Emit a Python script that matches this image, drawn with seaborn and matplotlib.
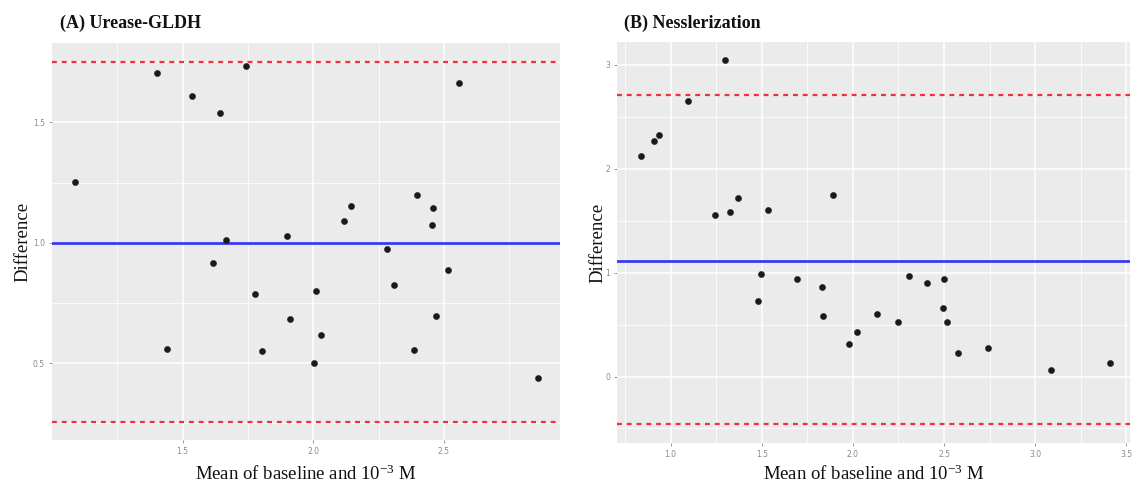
import numpy as np
import pandas as pd
import matplotlib
matplotlib.use("Agg")
import matplotlib.pyplot as plt
import seaborn as sns
from matplotlib.ticker import FixedLocator

# ---- data ----
a_mean = [1.089, 1.403, 1.534, 1.642, 1.667, 1.742, 1.900, 2.117, 2.144, 2.396,
          2.459, 2.456, 2.558, 2.282, 1.618, 1.440, 1.777, 1.802, 1.909, 2.012,
          2.029, 2.001, 2.310, 2.514, 2.469, 2.385, 2.860]
a_diff = [1.254, 1.707, 1.611, 1.540, 1.011, 1.736, 1.026, 1.092, 1.151, 1.199,
          1.143, 1.075, 1.663, 0.975, 0.915, 0.557, 0.785, 0.550, 0.682, 0.801,
          0.617, 0.499, 0.824, 0.885, 0.696, 0.553, 0.436]
a_bias, a_upper, a_lower = 1.0, 1.75, 0.254

b_mean = [0.836, 0.910, 0.938, 1.098, 1.297, 1.244, 1.325, 1.367, 1.537, 1.890,
          1.495, 1.479, 1.695, 1.830, 1.834, 1.978, 2.020, 2.132, 2.246, 2.307,
          2.409, 2.501, 2.495, 2.515, 2.575, 2.741, 3.086, 3.413]
b_diff = [2.126, 2.271, 2.329, 2.650, 3.048, 1.552, 1.584, 1.719, 1.603, 1.745,
          0.990, 0.724, 0.942, 0.862, 0.586, 0.310, 0.426, 0.602, 0.522, 0.968,
          0.904, 0.942, 0.660, 0.522, 0.229, 0.272, 0.066, 0.133]
b_bias, b_upper, b_lower = 1.116, 2.711, -0.459

a_xticks = [1.5, 2.0, 2.5]
a_xlabels = ["1.5", "2.0", "2.5"]
a_yticks = [0.5, 1.0, 1.5]
a_ylabels = ["0.5", "1.0", "1.5"]
b_xticks = [1.0, 1.5, 2.0, 2.5, 3.0, 3.5]
b_xlabels = ["1.0", "1.5", "2.0", "2.5", "3.0", "3.5"]
b_yticks = [0, 1, 2, 3]
b_ylabels = ["0", "1", "2", "3"]

titles = ["(A) Urease-GLDH", "(B) Nesslerization"]
xlabel = "Mean of baseline and 10$^{-3}$ M"
ylabel = "Difference"

sns.set_theme(style="darkgrid")
plt.rcParams["font.family"] = ["DejaVu Sans"]
plt.rcParams["mathtext.fontset"] = "custom"
plt.rcParams["mathtext.rm"] = "Liberation Serif"
plt.rcParams["mathtext.it"] = "Liberation Serif:italic"
plt.rcParams["mathtext.bf"] = "Liberation Serif:bold"

fig = plt.figure(figsize=(11.34, 4.92), dpi=100)
axA = fig.add_axes([52/1134, 1-440/492, 508/1134, 397/492])
axB = fig.add_axes([617/1134, 1-443/492, 513/1134, 401/492])

panels = [
    (axA, a_mean, a_diff, a_bias, a_upper, a_lower, (1.0, 2.944), (0.18, 1.83),
     a_xticks, a_xlabels, a_yticks, a_ylabels,
     [1.25, 1.75, 2.25, 2.75], [0.25, 0.75, 1.25, 1.75], 6.4, -0.057),
    (axB, b_mean, b_diff, b_bias, b_upper, b_lower, (0.706, 3.52), (-0.64, 3.22),
     b_xticks, b_xlabels, b_yticks, b_ylabels,
     [0.75, 1.25, 1.75, 2.25, 2.75, 3.25], [-0.5, 0.5, 1.5, 2.5], 4.2, -0.037),
]

for (ax, xm, yd, bias, up, lo, xl, yl, xt, xtl, yt, ytl, xmin, ymin, xpad, ycoord) in panels:
    ax.set_facecolor("#EBEBEB")
    df = pd.DataFrame({"m": xm, "d": yd})
    ax.set_xlim(*xl)
    ax.set_ylim(*yl)
    ax.xaxis.set_major_locator(FixedLocator(xt))
    ax.yaxis.set_major_locator(FixedLocator(yt))
    ax.set_xticklabels(xtl)
    ax.set_yticklabels(ytl)
    ax.xaxis.set_minor_locator(FixedLocator(xmin))
    ax.yaxis.set_minor_locator(FixedLocator(ymin))
    ax.grid(which="major", color="white", linewidth=1.1)
    ax.grid(which="minor", color="white", linewidth=0.55)
    ax.set_axisbelow(True)
    for s in ax.spines.values():
        s.set_visible(False)
    ax.tick_params(axis="both", which="major", labelsize=5.5, labelcolor="#8a8a8a",
                   color="#8a8a8a", length=2, width=0.6, pad=3,
                   bottom=True, left=True)
    ax.tick_params(axis="both", which="minor", length=0)
    ax.axhline(bias, color="#3a3af0", linewidth=2.0, zorder=2)
    ax.axhline(up, color="#F0303A", linewidth=1.6, linestyle=(0, (2.2, 2.2)), zorder=2)
    ax.axhline(lo, color="#F0303A", linewidth=1.6, linestyle=(0, (2.2, 2.2)), zorder=2)
    sns.scatterplot(data=df, x="m", y="d", ax=ax, color="#1a1a1a", s=20,
                    edgecolor="#1a1a1a", linewidth=0.3, zorder=3, legend=False)
    ax.set_xlabel(xlabel, family="Liberation Serif", fontsize=13.5, color="#111111",
                  labelpad=xpad)
    ax.set_ylabel(ylabel, family="Liberation Serif", fontsize=13.5, color="#111111")
    ax.yaxis.set_label_coords(ycoord, 0.5)
    ax.yaxis.label.set_verticalalignment("center")

fig.text(60/1134, 1-23/492, titles[0], family="Liberation Serif", fontweight="bold",
         fontsize=13, va="center", ha="left", color="#111111")
fig.text(624/1134, 1-23/492, titles[1], family="Liberation Serif", fontweight="bold",
         fontsize=13, va="center", ha="left", color="#111111")

fig.savefig("out.png", dpi=100, facecolor="white")
